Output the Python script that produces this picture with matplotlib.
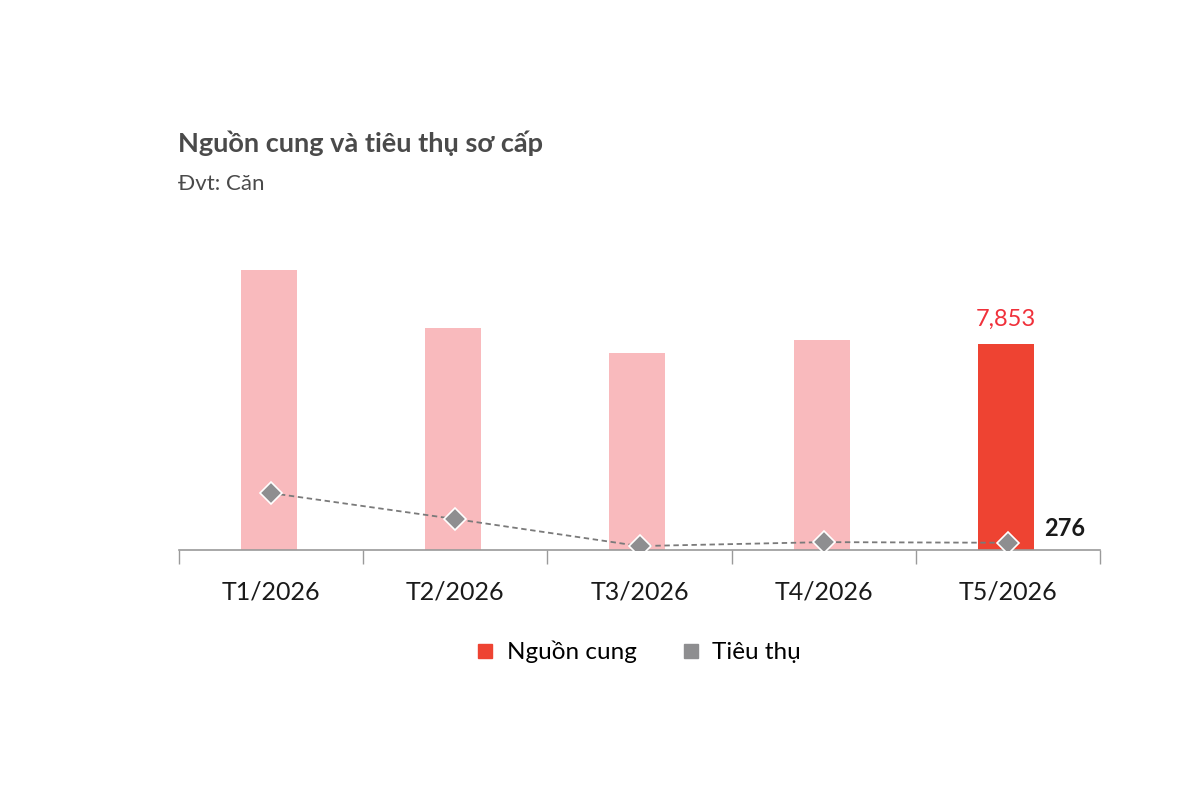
import numpy as np
import matplotlib.pyplot as plt
from matplotlib.lines import Line2D

plt.rcParams['font.family'] = ['Lato', 'DejaVu Sans']

# data
months = ['T1/2026', 'T2/2026', 'T3/2026', 'T4/2026', 'T5/2026']
supply = [10670, 8460, 7510, 8000, 7853]   # Nguồn cung
sold = [2170, 1180, 150, 300, 276]         # Tiêu thụ

c_light = '#f9babd'
c_red = '#ee4332'
c_gray = '#8e8e90'

fig = plt.figure(figsize=(12, 8), dpi=100)
ax = fig.add_axes([0.149, 0.3125, 0.768, 0.375])

x = np.arange(len(months))
colors = [c_light] * (len(months) - 1) + [c_red]
ax.bar(x - 0.012, supply, width=0.305, color=colors, zorder=2)
ax.plot(x, sold, ls=(0, (3, 2)), color='#7a7a7a', lw=1.3, zorder=3)
ax.plot(x, sold, ls='none', marker='D', ms=11, mfc=c_gray, mec='white', mew=1.2, zorder=4)

ax.set_xlim(-0.5, len(months) - 0.5)
ax.set_ylim(0, 11440)

for s in ['top', 'right', 'left']:
    ax.spines[s].set_visible(False)
ax.spines['bottom'].set_color('#9a9a9a')
ax.spines['bottom'].set_linewidth(1.2)
ax.set_yticks([])
ax.set_xticks(np.arange(-0.5, len(months)), minor=True)
ax.tick_params(axis='x', which='minor', length=10, color='#9a9a9a', width=1)
ax.tick_params(axis='x', which='major', length=0, pad=22, labelsize=18, labelcolor='#1a1a1a')
ax.set_xticks(x)
ax.set_xticklabels(months)

# value labels on last month
ax.annotate(f'{supply[-1]:,}', (x[-1] - 0.012, supply[-1]), xytext=(0, 10), textcoords='offset points',
            ha='center', va='bottom', fontsize=17, color='#f0303a')
ax.annotate(f'{sold[-1]}', (x[-1], sold[-1]), xytext=(26, 2), textcoords='offset points',
            ha='left', va='bottom', fontsize=17, fontweight='bold', color='#1a1a1a')

fig.text(0.148, 0.81, 'Nguồn cung và tiêu thụ sơ cấp', fontsize=19.5, fontweight='bold', color='#4a4a4a')
fig.text(0.148, 0.762, 'Đvt: Căn', fontsize=16, color='#4a4a4a')

handles = [Line2D([], [], ls='none', marker='s', ms=10, color=c_red),
           Line2D([], [], ls='none', marker='s', ms=10, color=c_gray)]
fig.legend(handles, ['Nguồn cung', 'Tiêu thụ'], loc='center', bbox_to_anchor=(0.532, 0.185),
           ncol=2, frameon=False, fontsize=17.5, handlelength=0.8, handletextpad=0.5,
           columnspacing=1.8)

fig.savefig('out.png', dpi=100, facecolor='white')
